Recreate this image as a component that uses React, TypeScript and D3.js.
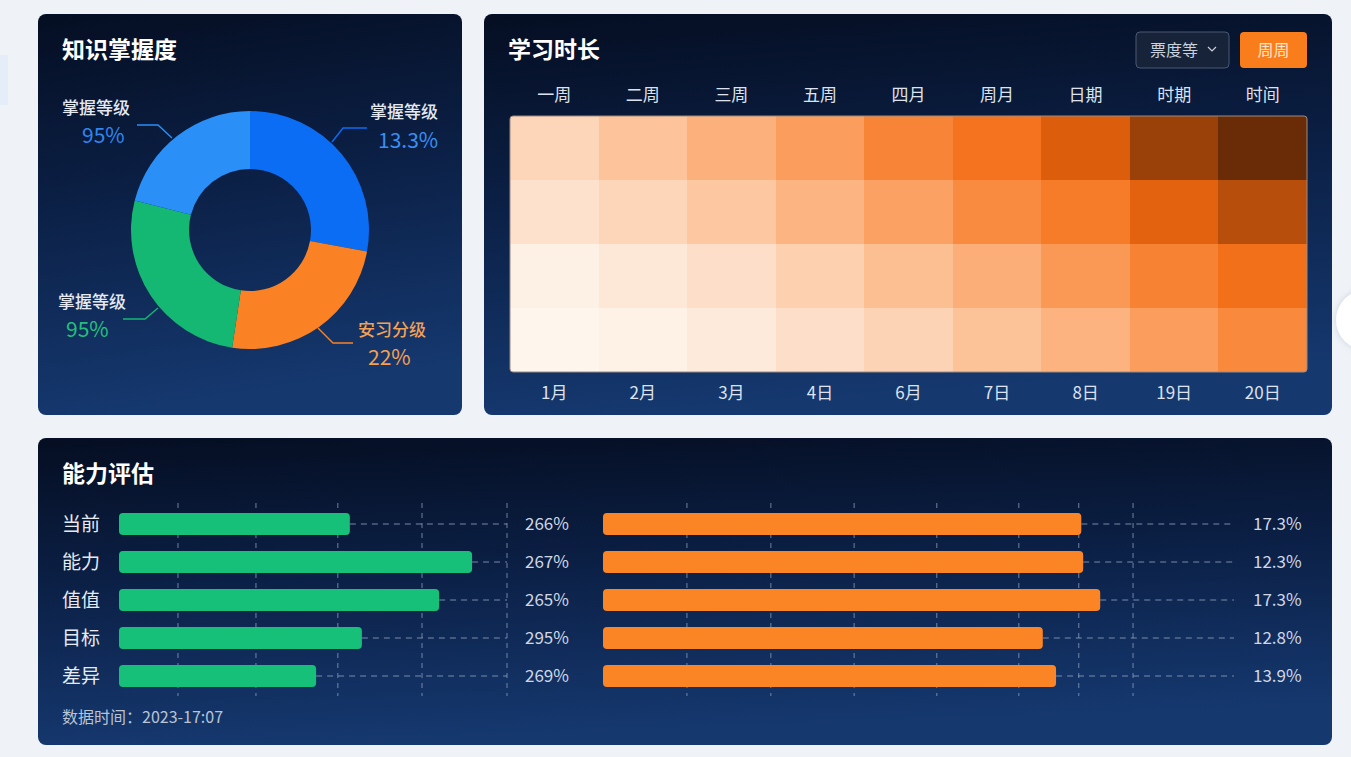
import React from "react";
import * as d3 from "d3";

// ---- Knowledge mastery donut ----
const masteryNames = ["掌握等级", "安习分级", "掌握等级", "掌握等级"];
const masteryShares = [27.9, 24.5, 26.6, 21.0];
const masteryLabels = ["13.3%", "22%", "95%", "95%"];
const masteryColors = ["#0b6cf4", "#fa8224", "#15b873", "#2a8ff6"];
const masteryTextColors = ["#3a8ef2", "#f7a04e", "#22c07c", "#2f86f0"];

// ---- Study time heatmap ----
const weekLabels = ["一周", "二周", "三周", "五周", "四月", "周月", "日期", "时期", "时间"];
const dayLabels = ["1月", "2月", "3月", "4日", "6月", "7日", "8日", "19日", "20日"];
const studyRow1 = [25, 35, 45, 54, 65, 74, 85, 94, 100];
const studyRow2 = [17, 25, 33, 43, 52, 62, 69, 83, 90];
const studyRow3 = [6, 12, 19, 28, 38, 46, 56, 66, 76];
const studyRow4 = [2, 5, 11, 19, 26, 36, 44, 54, 63];
const studyRows = [studyRow1, studyRow2, studyRow3, studyRow4];

// ---- Ability assessment bars ----
const abilityNames = ["当前", "能力", "值值", "目标", "差异"];
const greenScores = [59.5, 91, 82.5, 62.6, 50.8];
const greenLabels = ["266%", "267%", "265%", "295%", "269%"];
const greenGrid = [15.2, 35.3, 56.4, 78.1, 100];
const orangeScores = [75.8, 76.1, 78.8, 69.7, 71.8];
const orangeLabels = ["17.3%", "12.3%", "17.3%", "12.8%", "13.9%"];
const orangeGrid = [13.3, 26.6, 39.8, 52.9, 65.9, 75.4, 84];

const FONT = "'Noto Sans CJK SC', 'Noto Sans', sans-serif";

function Panel({ x, y, w, h }: { x: number; y: number; w: number; h: number }) {
  return <rect x={x} y={y} width={w} height={h} rx={8} fill="url(#panelGrad)" />;
}

function Donut() {
  const cx = 250;
  const cy = 230;
  const pie = d3.pie<number>().sort(null).startAngle(0).endAngle(Math.PI * 2);
  const arc = d3.arc<d3.PieArcDatum<number>>().innerRadius(61).outerRadius(119);
  const arcs = pie(masteryShares);
  // label anchor points and leader paths
  const labelSpots = [
    { nx: 370, ny: 112, vx: 378, vy: 141, line: [[332, 142], [343, 128], [367, 128]] },
    { nx: 358, ny: 330, vx: 368, vy: 358, line: [[318, 328], [333, 343], [353, 343]] },
    { nx: 58, ny: 302, vx: 66, vy: 330, line: [[158, 308], [145, 319], [123, 319]] },
    { nx: 62, ny: 108, vx: 82, vy: 136, line: [[172, 138], [158, 125], [137, 125]] },
  ];
  const line = d3.line();
  return (
    <g>
      <g transform={`translate(${cx},${cy})`}>
        {arcs.map((a, i) => (
          <path key={i} d={arc(a) || ""} fill={masteryColors[i]} />
        ))}
      </g>
      {labelSpots.map((s, i) => (
        <g key={i}>
          <path d={line(s.line as [number, number][]) || ""} fill="none" stroke={masteryColors[i]} strokeWidth={1.4} />
          <text x={s.nx} y={s.ny} dy="0.35em" fill={i === 1 ? "#f5a052" : "#e4e9f2"} fontSize={17} fontWeight={500} fontFamily={FONT}>
            {masteryNames[i]}
          </text>
          <text x={s.vx} y={s.vy} dy="0.35em" fill={masteryTextColors[i]} fontSize={21} fontFamily={FONT}>
            {masteryLabels[i]}
          </text>
        </g>
      ))}
    </g>
  );
}

function Heatmap() {
  const x = d3.scaleBand<string>().domain(weekLabels).range([510, 1307]).padding(0);
  const rowKeys = studyRows.map((_, i) => String(i));
  const y = d3.scaleBand<string>().domain(rowKeys).range([116, 372]).padding(0);
  const color = d3
    .scaleLinear<string>()
    .domain([0, 10, 20, 30, 40, 50, 60, 70, 78, 85, 92, 100])
    .range([
      "#fef7f0", "#fdebdc", "#fdddc6", "#fdcdaa", "#fcbb8c", "#fba66b",
      "#f98f47", "#f77a26", "#f26c16", "#dc5e0d", "#a8480a", "#6a2c07",
    ])
    .interpolate(d3.interpolateRgb);
  return (
    <g>
      <clipPath id="heatClip">
        <rect x={510} y={116} width={797} height={256} rx={3} />
      </clipPath>
      <g clipPath="url(#heatClip)" shapeRendering="crispEdges">
        {studyRows.map((row, r) =>
          row.map((v, c) => (
            <rect
              key={`${r}-${c}`}
              x={x(weekLabels[c])}
              y={y(String(r))}
              width={x.bandwidth() + 1}
              height={y.bandwidth() + 1}
              fill={color(v)}
            />
          ))
        )}
      </g>
      <rect x={510} y={116} width={797} height={256} rx={3} fill="none" stroke="#9c8a80" strokeWidth={1} />
      {weekLabels.map((w) => (
        <text key={w} x={(x(w) || 0) + x.bandwidth() / 2} y={95} dy="0.35em" textAnchor="middle" fill="#dde3ee" fontSize={17} fontFamily={FONT}>
          {w}
        </text>
      ))}
      {dayLabels.map((d, i) => (
        <text key={d} x={(x(weekLabels[i]) || 0) + x.bandwidth() / 2} y={393} dy="0.35em" textAnchor="middle" fill="#dde3ee" fontSize={17} fontFamily={FONT}>
          {d}
        </text>
      ))}
      {/* controls */}
      <rect x={1136} y={32} width={93} height={36} rx={4} fill="#172339" stroke="#4a5873" strokeWidth={1} />
      <text x={1150} y={50} dy="0.35em" fill="#c9d1de" fontSize={16} fontFamily={FONT}>票度等</text>
      <path d="M1208,47 L1212,51 L1216,47" fill="none" stroke="#c9d1de" strokeWidth={1.2} />
      <rect x={1240} y={32} width={67} height={36} rx={4} fill="#fa7d1c" />
      <text x={1273.5} y={50} dy="0.35em" textAnchor="middle" fill="#ffe3c9" fontSize={16} fontFamily={FONT}>周周</text>
    </g>
  );
}

function Bars() {
  const y = d3.scalePoint<string>().domain(abilityNames).range([524, 676]);
  const gx = d3.scaleLinear().domain([0, 100]).range([119, 507]);
  const ox = d3.scaleLinear().domain([0, 100]).range([603, 1234]);
  const barH = 22;
  return (
    <g>
      {greenGrid.map((t, i) => (
        <line key={`gg${i}`} x1={gx(t)} x2={gx(t)} y1={503} y2={696} stroke="#94a4bf" strokeOpacity={0.75} strokeDasharray="5 5" />
      ))}
      {orangeGrid.map((t, i) => (
        <line key={`og${i}`} x1={ox(t)} x2={ox(t)} y1={503} y2={696} stroke="#94a4bf" strokeOpacity={0.75} strokeDasharray="5 5" />
      ))}
      {abilityNames.map((n, i) => {
        const cy = y(n) || 0;
        return (
          <g key={n}>
            <text x={62} y={cy} dy="0.35em" fill="#e6ebf3" fontSize={19} fontFamily={FONT}>{n}</text>
            <line x1={gx(greenScores[i])} x2={gx(100)} y1={cy} y2={cy} stroke="#94a4bf" strokeOpacity={0.8} strokeDasharray="6 5" />
            <rect x={gx(0)} y={cy - barH / 2} width={gx(greenScores[i]) - gx(0)} height={barH} rx={4} fill="#17c078" />
            <text x={525} y={cy} dy="0.35em" fill="#cfd7e4" fontSize={17} fontFamily={FONT}>{greenLabels[i]}</text>
            <line x1={ox(orangeScores[i])} x2={ox(100)} y1={cy} y2={cy} stroke="#94a4bf" strokeOpacity={0.8} strokeDasharray="6 5" />
            <rect x={ox(0)} y={cy - barH / 2} width={ox(orangeScores[i]) - ox(0)} height={barH} rx={4} fill="#fb8424" />
            <text x={1253} y={cy} dy="0.35em" fill="#cfd7e4" fontSize={17} fontFamily={FONT}>{orangeLabels[i]}</text>
          </g>
        );
      })}
      <text x={62} y={717} dy="0.35em" fill="#b9c3d4" fontSize={16} fontFamily={FONT}>数据时间：2023-17:07</text>
    </g>
  );
}

export default function App() {
  return (
    <svg width={1351} height={757} style={{ position: "absolute", left: 0, top: 0, display: "block" }}>
      <defs>
        <linearGradient id="panelGrad" x1="0" y1="0" x2="0.15" y2="1">
          <stop offset="0%" stopColor="#050e22" />
          <stop offset="45%" stopColor="#0b1f44" />
          <stop offset="100%" stopColor="#15386f" />
        </linearGradient>
        <filter id="softShadow" x="-50%" y="-50%" width="200%" height="200%">
          <feDropShadow dx="0" dy="0" stdDeviation="3" floodColor="#8090a8" floodOpacity="0.35" />
        </filter>
      </defs>
      <rect x={0} y={0} width={1351} height={757} fill="#eff3f8" />
      <rect x={0} y={55} width={8} height={50} fill="#e4edf8" />
      <circle cx={1366} cy={320} r={30} fill="#ffffff" filter="url(#softShadow)" />
      <Panel x={38} y={14} w={424} h={401} />
      <Panel x={484} y={14} w={848} h={401} />
      <Panel x={38} y={438} w={1294} h={307} />
      <text x={62} y={50} dy="0.35em" fill="#ffffff" fontSize={23} fontWeight={700} fontFamily={FONT}>知识掌握度</text>
      <text x={508} y={50} dy="0.35em" fill="#ffffff" fontSize={23} fontWeight={700} fontFamily={FONT}>学习时长</text>
      <text x={62} y={474} dy="0.35em" fill="#ffffff" fontSize={23} fontWeight={700} fontFamily={FONT}>能力评估</text>
      <Donut />
      <Heatmap />
      <Bars />
    </svg>
  );
}
